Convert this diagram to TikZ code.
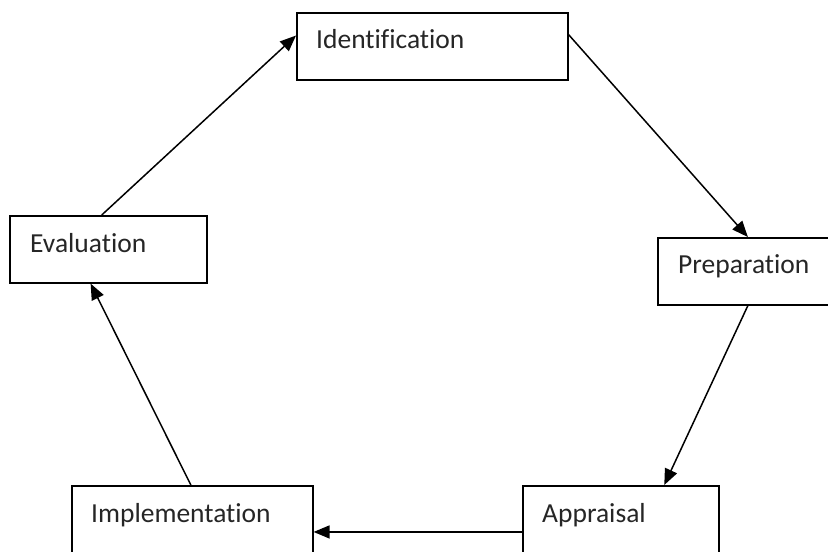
\documentclass[tikz,border=0pt]{standalone}
\usepackage{fontspec}
\setmainfont[Ligatures=NoCommon]{Carlito}
\usetikzlibrary{arrows.meta,calc}
\begin{document}
\begin{tikzpicture}[x=1pt,y=-1pt,
  box/.style={draw=black,line width=1.6pt,rectangle,inner sep=0pt},
  lbl/.style={anchor=base west,inner sep=0pt,text=black!85,font=\fontsize{27.5}{31}\selectfont},
  arr/.style={line width=1.5pt,-{Triangle[length=16pt,width=13pt]}}]
\useasboundingbox (0,0) rectangle (828,552);
\clip (0,0) rectangle (828,552);
\fill[white] (0,0) rectangle (828,552);
% boxes
\node[box,minimum width=271pt,minimum height=67pt,anchor=north west] (ident) at (296,12) {};
\node[box,minimum width=197pt,minimum height=67pt,anchor=north west] (eval) at (9,215) {};
\node[box,minimum width=178pt,minimum height=67pt,anchor=north west] (prep) at (657,237) {};
\node[box,minimum width=196pt,minimum height=75pt,anchor=north west] (appr) at (522,485) {};
\node[box,minimum width=241pt,minimum height=75pt,anchor=north west] (impl) at (71,485) {};
% labels
\node[lbl] (identT) at (316,48) {Identification};
\node[lbl] (evalT) at (30,252) {Evaluation};
\node[lbl] (prepT) at (678,273) {Preparation};
\node[lbl] (apprT) at (542,522) {Appraisal};
\node[lbl] (implT) at (91,522) {Implementation};
% connectors
\draw[arr] ($(eval.north west)!0.467!(eval.north east)$) -- ($(ident.north west)!0.343!(ident.south west)$);
\draw[arr] ($(ident.north east)!0.33!(ident.south east)$) -- ($(prep.north west)!0.506!(prep.north east)$);
\draw[arr] ($(prep.south west)!0.506!(prep.south east)$) -- ($(appr.north west)!0.72!(appr.north east)$);
\draw[arr] ($(appr.north west)!0.613!(appr.south west)$) -- ($(impl.north east)!0.613!(impl.south east)$);
\draw[arr] ($(impl.north west)!0.494!(impl.north east)$) -- ($(eval.south west)!0.411!(eval.south east)$);
\end{tikzpicture}
\end{document}
